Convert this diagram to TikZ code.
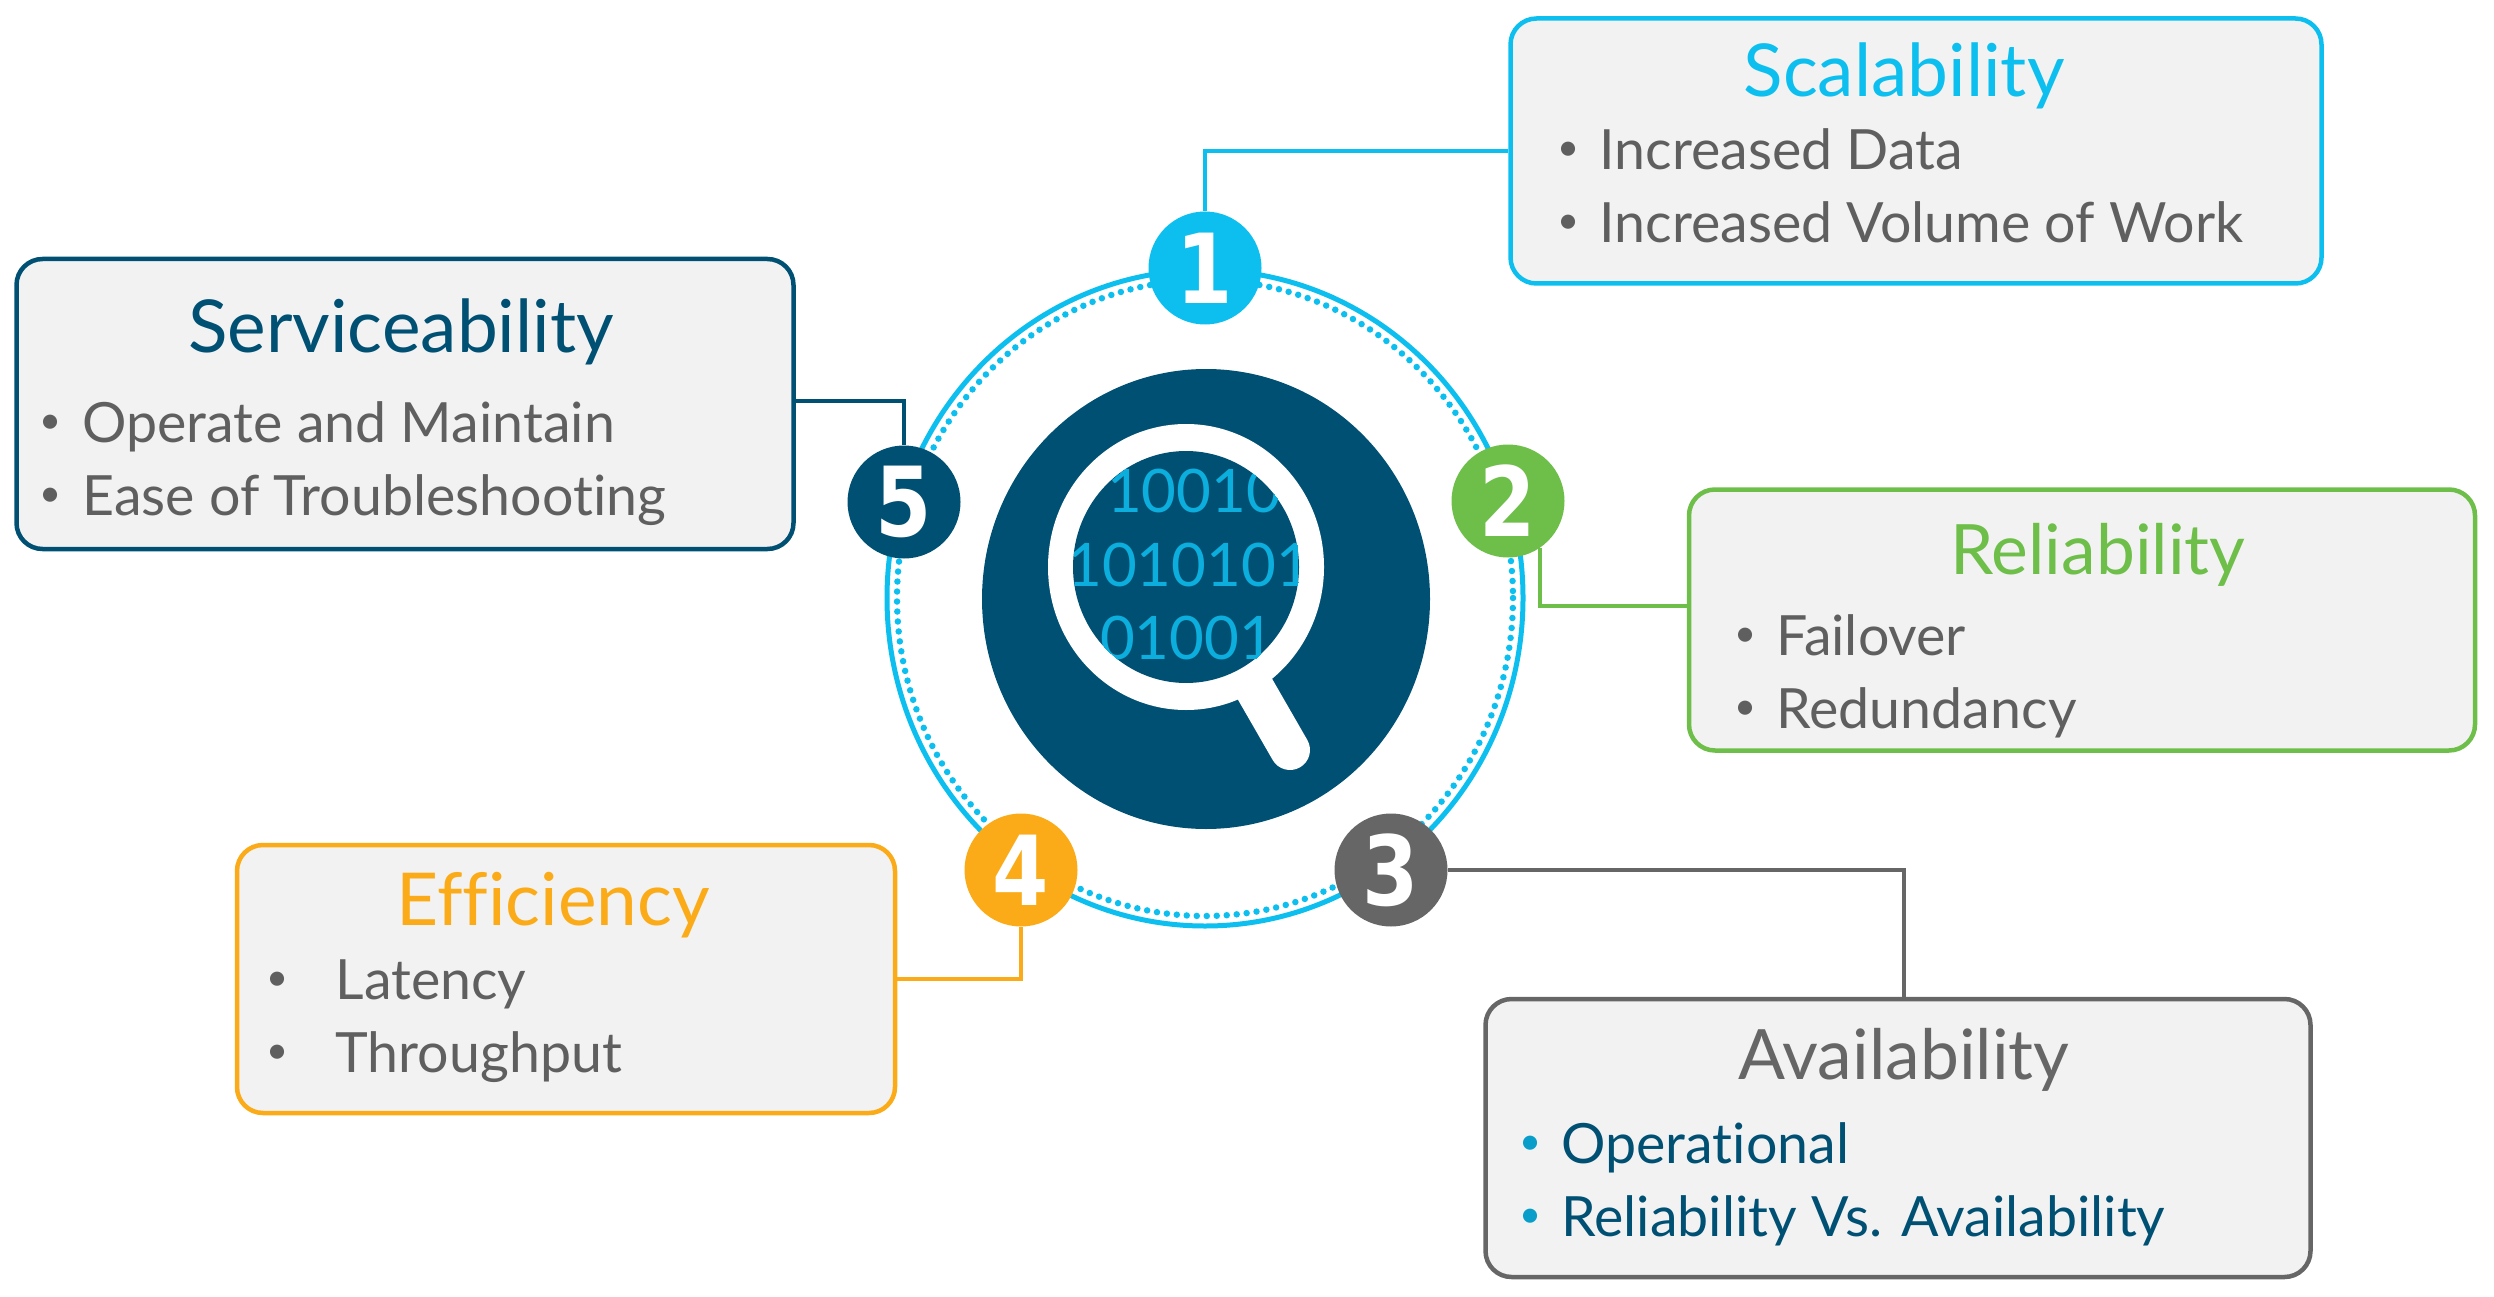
\documentclass[tikz,border=0pt]{standalone}
\usepackage{fontspec}
\setmainfont{Lato}[Ligatures=CommonOff]
\newfontfamily\numfont{DejaVu Sans}[BoldFont={DejaVu Sans Bold}]
\definecolor{ccyan}{HTML}{0DBFEF}
\definecolor{cgreen}{HTML}{6EBE4A}
\definecolor{cgrey}{HTML}{666666}
\definecolor{corange}{HTML}{FBAB18}
\definecolor{cnavy}{HTML}{005073}
\definecolor{cfill}{HTML}{F2F2F2}
\definecolor{ctext}{HTML}{5F5F5F}
\newcommand{\numeral}[1]{\scalebox{0.88}[1.05]{#1}}
\tikzset{
  x=1pt,y=-1pt,
  card/.style={draw=#1,fill=cfill,line width=4.5pt,rounded corners=26pt,inner sep=0pt},
  link/.style={draw=#1,line width=4pt},
  badge/.style={circle,fill=#1,minimum size=113pt,inner sep=0pt,text=white,font=\numfont\bfseries\fontsize{92}{100}\selectfont},
  title/.style={anchor=center,text=#1,font=\fontsize{73}{80}\selectfont},
  titlesmall/.style={anchor=center,text=#1,font=\fontsize{69.5}{80}\selectfont},
  item/.style={anchor=base west,text=#1,font=\fontsize{55.5}{60}\selectfont},
  dot/.style={anchor=base,text=#1,font=\fontsize{38}{60}\selectfont},
  bits/.style={anchor=center,text=ccyan!85!cnavy,font=\fontsize{60}{60}\selectfont}
}
\begin{document}
\begin{tikzpicture}
\useasboundingbox (0,0) rectangle (2494,1297);
% ring
\draw[ccyan,line width=5pt] (1205,598) ellipse [x radius=318,y radius=328];
\draw[ccyan,line width=6.5pt,line cap=round,dash pattern=on 0pt off 10pt] (1205,598) ellipse [x radius=308,y radius=318];
% lens icon
\fill[cnavy] (1206,599) ellipse [x radius=224,y radius=230];
\fill[white] (1186,567) ellipse [x radius=138,y radius=143];
\draw[white,line width=40pt,line cap=round] (1252,684) -- (1290,750);
\fill[cnavy] (1186,567) ellipse [x radius=113,y radius=116];
\begin{scope}
  \clip (1186,567) ellipse [x radius=113,y radius=116];
  \node[bits] (b1) at (1194,491) {10010};
  \node[bits] (b2) at (1189,565) {1010101};
  \node[bits] (b3) at (1187,638) {01001};
\end{scope}
% cards
\node[card=ccyan,minimum width=811pt,minimum height=265pt] (scal) at (1916,151) {};
\node[card=cgreen,minimum width=786pt,minimum height=261pt] (rel) at (2082,620) {};
\node[card=cgrey,minimum width=825pt,minimum height=278pt] (avail) at (1898,1138) {};
\node[card=corange,minimum width=658pt,minimum height=268pt] (eff) at (566,979) {};
\node[card=cnavy,minimum width=777pt,minimum height=290pt] (serv) at (405,404) {};
% badges
\node[badge=ccyan] (c1) at (1205,268) {\numeral{1}};
\node[badge=cgreen] (c2) at (1508,501) {\numeral{2}};
\node[badge=cgrey] (c3) at (1391,870) {\numeral{3}};
\node[badge=corange] (c4) at (1021,870) {\numeral{4}};
\node[badge=cnavy] (c5) at (904,502) {\numeral{5}};
% connectors
\coordinate (r2) at (rel.west |- 0,606);
\coordinate (a3) at (1904,0 |- avail.north);
\coordinate (s5) at (serv.east |- 0,401);
\draw[link=ccyan] (c1.north) |- (scal.west);
\draw[link=cgreen] (c2.-56) |- (r2);
\draw[link=cgrey] (c3.east) -| (a3);
\draw[link=corange] (c4.south) |- (eff.east);
\draw[link=cnavy] (s5) -| (c5.north);
% Scalability
\node[title=ccyan] (t1) at (1904,76) {Scalability};
\node[dot=ctext] (d11) at (1568,161) {•};
\node[item=ctext] (i11) at (1596,170) {Increased Data};
\node[dot=ctext] (d12) at (1568,234) {•};
\node[item=ctext] (i12) at (1596,243) {Increased Volume of Work};
% Reliability
\node[titlesmall=cgreen] (t2) at (2098,555) {Reliability};
\node[dot=ctext] (d21) at (1745,646) {•};
\node[item=ctext] (i21) at (1773,655) {Failover};
\node[dot=ctext] (d22) at (1745,719) {•};
\node[item=ctext] (i22) at (1773,728) {Redundancy};
% Availability
\node[titlesmall=cgrey] (t3) at (1904,1060) {Availability};
\node[dot=ccyan!70!cnavy] (d31) at (1530,1154) {•};
\node[item=cnavy] (i31) at (1558,1163) {Operational};
\node[dot=ccyan!70!cnavy] (d32) at (1530,1227) {•};
\node[item=cnavy] (i32) at (1558,1236) {Reliability Vs. Availability};
% Efficiency
\node[title=corange] (t4) at (553,905) {Efficiency};
\node[dot=ctext] (d41) at (278,990) {•};
\node[item=ctext] (i41) at (332,999) {Latency};
\node[dot=ctext] (d42) at (278,1063) {•};
\node[item=ctext] (i42) at (332,1072) {Throughput};
% Serviceability
\node[title=cnavy] (t5) at (401,332) {Serviceability};
\node[dot=ctext] (d51) at (51,433) {•};
\node[item=ctext] (i51) at (79,442) {Operate and Maintain};
\node[dot=ctext] (d52) at (51,506) {•};
\node[item=ctext] (i52) at (79,515) {Ease of Troubleshooting};
\end{tikzpicture}
\end{document}
